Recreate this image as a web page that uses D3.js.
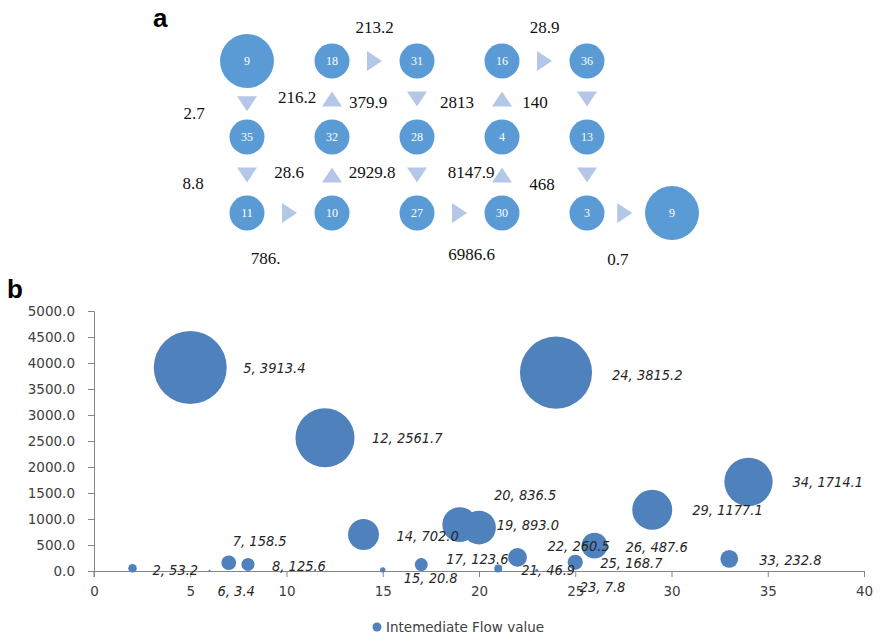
<!DOCTYPE html>
<html lang="en">
  <head>
    <meta charset="utf-8"/>
    <script src="https://d3js.org/d3.v7.min.js"></script>
    <title>Flow network and intermediate flow values</title>
  </head>
  <body style="margin:0;background:#fff">
    <svg id="chart" width="880" height="639"></svg>

  <script>
  // ---- panel a: network nodes ----
  const nodeLabels = ["9", "18", "31", "16", "36", "35", "32", "28", "4", "13", "11", "10", "27", "30", "3", "9"];
  const nodeCols   = [0, 1, 2, 3, 4, 0, 1, 2, 3, 4, 0, 1, 2, 3, 4, 5];
  const nodeRows   = [0, 0, 0, 0, 0, 1, 1, 1, 1, 1, 2, 2, 2, 2, 2, 2];
  const endNodes   = [0, 15];   // source / sink drawn larger

  // ---- panel a: flows (index into nodes) ----
  const flowFrom   = [1, 3, 0, 6, 2, 8, 4, 5, 11, 7, 13, 9, 10, 12, 14];
  const flowTo     = [2, 4, 5, 1, 7, 3, 9, 10, 6, 12, 8, 14, 11, 13, 15];
  const flowLabels = ["213.2", "28.9", "2.7", "216.2", "379.9", "2813", "140",
                      "8.8", "28.6", "2929.8", "8147.9", "468", "786.", "6986.6", "0.7"];

  // ---- panel b: bubbles ----
  const nodeIds    = [2, 5, 6, 7, 8, 12, 14, 15, 17, 19, 20, 21, 22, 23, 24, 25, 26, 29, 33, 34];
  const flowValues = [53.2, 3913.4, 3.4, 158.5, 125.6, 2561.7, 702.0, 20.8, 123.6, 893.0,
                      836.5, 46.9, 260.5, 7.8, 3815.2, 168.7, 487.6, 1177.1, 232.8, 1714.1];
  const xTicks = [0, 5, 10, 15, 20, 25, 30, 35, 40];
  const yTicks = [0, 500, 1000, 1500, 2000, 2500, 3000, 3500, 4000, 4500, 5000];
  const seriesName = "Intemediate Flow value";

  // label placement tweaks (pixels, relative to the mark)
  const flowLabelOffset = [[0,-34],[0,-34],[-53,9],[-35,-2],[-49,3],[-45,3],[-52,3],
                           [-54,8],[-43,-3],[-45,-3],[-31,-3],[-45,9],[-24,45],[12,41],[-7,46]];
  const bubbleLabelOffset = {2:[20,2],5:[53,0],6:[8,20],7:[4,-22],8:[24,1],12:[47,0],14:[33,1],
    15:[21,8],17:[25,-6],19:[37,0],20:[15,-33],21:[23,1],22:[30,-12],23:[43,16],24:[56,2],
    25:[25,1],26:[31,1],29:[40,0],33:[30,1],34:[44,0]};

  const svg = d3.select("#chart");

  // ================= panel a =================
  const gx = d3.scalePoint().domain(d3.range(6)).range([247, 672]);
  const gy = d3.scalePoint().domain(d3.range(3)).range([61, 213]);
  const nodeR = i => endNodes.includes(i) ? 27 : 17.5;
  const nodeFill = "#5b9bd5", arrowFill = "#b4c7e7";

  svg.append("text")
    .attr("x", 153).attr("y", 27)
    .text("a")
    .attr("font-family", "Liberation Sans, Arial, sans-serif")
    .attr("font-weight", "bold").attr("font-size", "26px");

  const flows = flowFrom.map((f, i) => {
    const t = flowTo[i];
    const x1 = gx(nodeCols[f]), y1 = gy(nodeRows[f]);
    const x2 = gx(nodeCols[t]), y2 = gy(nodeRows[t]);
    const dx = Math.sign(x2 - x1), dy = Math.sign(y2 - y1);
    // middle of the gap between the two circles
    const ax = (x1 + dx * nodeR(f) + x2 - dx * nodeR(t)) / 2;
    const ay = (y1 + dy * nodeR(f) + y2 - dy * nodeR(t)) / 2;
    return {ax, ay, dx, dy, label: flowLabels[i], off: flowLabelOffset[i]};
  });

  // triangles: 20 wide, 15 deep
  svg.selectAll(".arrow")
    .data(flows)
    .enter()
    .append("path")
      .attr("class", "arrow")
      .attr("d", function(d){
        if (d.dx !== 0) {
          return "M" + (-7.5*d.dx) + ",-10L" + (7.5*d.dx) + ",0L" + (-7.5*d.dx) + ",10Z";
        }
        return "M-10," + (-7.5*d.dy) + "L0," + (7.5*d.dy) + "L10," + (-7.5*d.dy) + "Z";
      })
      .attr("transform", d => "translate(" + d.ax + "," + d.ay + ")")
      .attr("fill", arrowFill);

  svg.selectAll(".flowlabel")
    .data(flows)
    .enter()
    .append("text")
      .attr("class", "flowlabel")
      .attr("x", d => d.ax + d.off[0])
      .attr("y", d => d.ay + d.off[1])
      .attr("dy", "0.35em")
      .attr("text-anchor", "middle")
      .text(d => d.label)
      .attr("font-family", "Liberation Serif, Times New Roman, serif")
      .attr("font-size", "17px")
      .attr("fill", "#111");

  const nodes = svg.selectAll(".node")
    .data(nodeLabels.map((l, i) => ({label: l, i})))
    .enter()
    .append("g")
      .attr("class", "node")
      .attr("transform", d => "translate(" + gx(nodeCols[d.i]) + "," + gy(nodeRows[d.i]) + ")");

  nodes.append("circle")
    .attr("r", d => nodeR(d.i))
    .attr("fill", nodeFill);

  nodes.append("text")
    .attr("text-anchor", "middle")
    .attr("dy", "0.35em")
    .text(d => d.label)
    .attr("font-family", "Liberation Serif, Times New Roman, serif")
    .attr("font-size", "12px")
    .attr("fill", "#fff");

  // ================= panel b =================
  const x = d3.scaleLinear().domain([0, 40]).range([94, 864]);
  const y = d3.scaleLinear().domain([0, 5000]).range([571, 311]);
  const r = d3.scaleSqrt().domain([0, d3.max(flowValues)]).range([0, 36.5]);
  const axisColor = "#868686", textColor = "#404040", bubbleFill = "#4f81bd";

  svg.append("text")
    .attr("x", 7).attr("y", 298)
    .text("b")
    .attr("font-family", "Liberation Sans, Arial, sans-serif")
    .attr("font-weight", "bold").attr("font-size", "26px");

  const yAxis = svg.append("g")
    .attr("transform", "translate(" + x(0) + ",0)")
    .call(d3.axisLeft(y).tickValues(yTicks).tickFormat(d3.format(".1f")).tickSizeOuter(0).tickSize(6).tickPadding(13));

  const xAxis = svg.append("g")
    .attr("transform", "translate(0," + y(0) + ")")
    .call(d3.axisBottom(x).tickValues(xTicks).tickSizeOuter(0).tickSize(6).tickPadding(9));

  [xAxis, yAxis].forEach(function(a){
    a.select(".domain").attr("stroke", axisColor);
    a.selectAll(".tick line").attr("stroke", axisColor);
    a.selectAll(".tick text")
      .attr("fill", textColor)
      .attr("font-family", "DejaVu Sans, Verdana, sans-serif")
      .attr("font-size", "13.5px");
  });
  // y axis runs down through the x axis
  yAxis.append("line").attr("x1", 0).attr("x2", 0).attr("y1", y(0)).attr("y2", y(0) + 6).attr("stroke", axisColor);

  const bubbles = nodeIds.map((id, i) => ({id, v: flowValues[i]}));

  svg.selectAll(".bubble")
    .data(bubbles)
    .enter()
    .append("circle")
      .attr("class", "bubble")
      .attr("cx", d => x(d.id))
      .attr("cy", d => y(d.v))
      .attr("r", d => r(d.v))
      .attr("fill", bubbleFill);

  svg.selectAll(".blabel")
    .data(bubbles)
    .enter()
    .append("text")
      .attr("class", "blabel")
      .attr("x", d => x(d.id) + bubbleLabelOffset[d.id][0])
      .attr("y", d => y(d.v) + bubbleLabelOffset[d.id][1])
      .attr("dy", "0.35em")
      .text(d => d.id + ", " + d3.format(".1f")(d.v))
      .attr("font-family", "DejaVu Sans Condensed, DejaVu Sans, sans-serif")
      .attr("font-style", "italic")
      .attr("font-size", "14.5px")
      .attr("fill", "#262626");

  // legend
  const legend = svg.append("g").attr("transform", "translate(377,627)");
  legend.append("circle").attr("r", 4.5).attr("fill", bubbleFill);
  legend.append("text")
    .attr("x", 9).attr("dy", "0.35em")
    .text(seriesName)
    .attr("font-family", "DejaVu Sans, Verdana, sans-serif")
    .attr("font-size", "13.5px")
    .attr("fill", textColor);
  </script>
  </body>
</html>
